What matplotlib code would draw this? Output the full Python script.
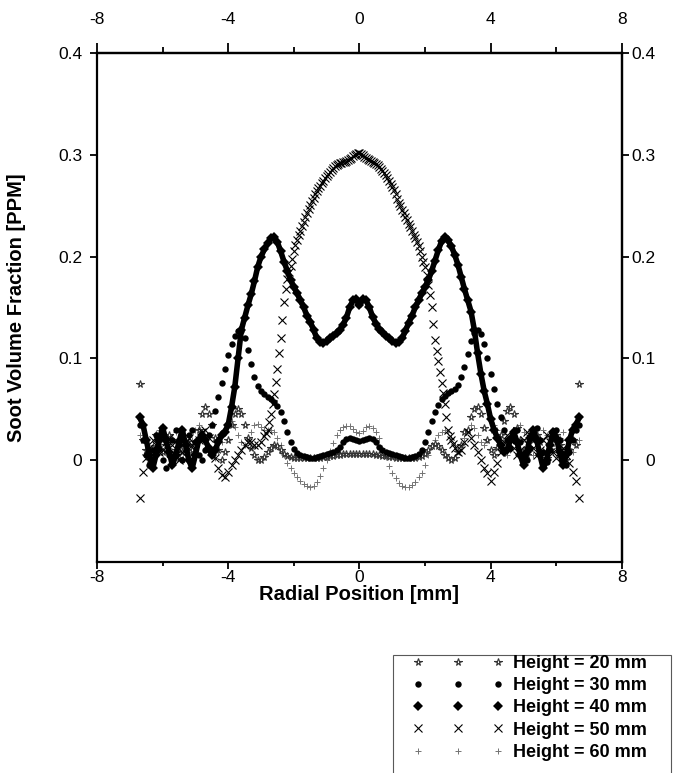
import numpy as np
import matplotlib.pyplot as plt
from matplotlib.lines import Line2D
from matplotlib.patches import Rectangle

plt.rcParams['font.family'] = ['Liberation Sans', 'DejaVu Sans']
plt.rcParams['axes.unicode_minus'] = False

# radial positions, mm (-6.7 .. 6.7, 0.1 steps)
radial_mm = np.round(np.linspace(-6.7, 6.7, 135), 2)
# 50 mm profile read finer across the central peak
radial_50mm = np.round(np.concatenate([np.linspace(-6.7, -3.0, 38),
                                       np.linspace(-2.9, 2.9, 117),
                                       np.linspace(3.0, 6.7, 38)]), 2)

# soot volume fraction, ppm
fv_20mm = [
    0.075, 0.02, 0.01, 0.0, 0.012, 0.025, 0.018, 0.008, 0.015, 0.025,
    0.02, 0.01, 0.002, 0.008, 0.018, 0.015, 0.01, 0.018, 0.03, 0.045,
    0.052, 0.045, 0.035, 0.022, 0.01, 0.0, 0.008, 0.02, 0.035, 0.045,
    0.05, 0.045, 0.035, 0.022, 0.012, 0.005, 0.0, 0.0, 0.003, 0.008,
    0.012, 0.015, 0.014, 0.01, 0.006, 0.004, 0.003, 0.002, 0.002, 0.002,
    0.002, 0.002, 0.002, 0.002, 0.002, 0.002, 0.003, 0.003, 0.004, 0.004,
    0.005, 0.005, 0.006, 0.006, 0.006, 0.006, 0.006, 0.006, 0.006, 0.006,
    0.006, 0.006, 0.005, 0.005, 0.004, 0.004, 0.003, 0.003, 0.002, 0.002,
    0.002, 0.002, 0.002, 0.002, 0.002, 0.003, 0.004, 0.006, 0.01, 0.014,
    0.016, 0.014, 0.01, 0.005, 0.002, 0.0, 0.002, 0.008, 0.015, 0.028,
    0.03, 0.042, 0.05, 0.052, 0.045, 0.032, 0.02, 0.01, 0.005, 0.012,
    0.025, 0.038, 0.048, 0.052, 0.045, 0.032, 0.02, 0.01, 0.005, 0.012,
    0.02, 0.025, 0.018, 0.008, 0.002, 0.01, 0.02, 0.025, 0.015, 0.005,
    0.0, 0.01, 0.02, 0.015, 0.075,
]
fv_30mm = [
    0.035, 0.02, 0.005, -0.005, 0.01, 0.025, 0.012, 0.0, -0.008, 0.005,
    0.02, 0.03, 0.015, 0.0, 0.01, 0.025, 0.03, 0.018, 0.005, 0.0,
    0.01, 0.025, 0.035, 0.048, 0.062, 0.076, 0.09, 0.103, 0.114, 0.122,
    0.127, 0.127, 0.12, 0.108, 0.094, 0.082, 0.073, 0.068, 0.065, 0.062,
    0.06, 0.057, 0.053, 0.047, 0.038, 0.028, 0.018, 0.011, 0.007, 0.005,
    0.004, 0.003, 0.002, 0.002, 0.003, 0.004, 0.005, 0.006, 0.007, 0.008,
    0.01, 0.013, 0.018, 0.021, 0.022, 0.021, 0.02, 0.019, 0.02, 0.021,
    0.022, 0.021, 0.018, 0.013, 0.01, 0.008, 0.007, 0.006, 0.005, 0.004,
    0.003, 0.002, 0.002, 0.003, 0.004, 0.006, 0.01, 0.018, 0.028, 0.038,
    0.047, 0.054, 0.06, 0.063, 0.066, 0.068, 0.07, 0.074, 0.082, 0.092,
    0.104, 0.117, 0.125, 0.128, 0.124, 0.114, 0.1, 0.085, 0.07, 0.055,
    0.042, 0.03, 0.02, 0.012, 0.02, 0.03, 0.018, 0.005, 0.0, 0.012,
    0.025, 0.032, 0.02, 0.008, -0.002, 0.01, 0.022, 0.03, 0.02, 0.005,
    -0.005, 0.008, 0.02, 0.03, 0.035,
]
fv_40mm = [
    0.042, 0.035, 0.02, 0.005, -0.008, 0.005, 0.02, 0.032, 0.02, 0.008,
    -0.005, 0.005, 0.018, 0.03, 0.015, 0.0, -0.008, 0.005, 0.02, 0.025,
    0.02, 0.012, 0.005, 0.01, 0.018, 0.025, 0.028, 0.035, 0.052, 0.072,
    0.1, 0.128, 0.14, 0.152, 0.163, 0.176, 0.19, 0.2, 0.207, 0.213,
    0.218, 0.219, 0.214, 0.205, 0.195, 0.186, 0.177, 0.17, 0.164, 0.157,
    0.15, 0.142, 0.136, 0.128, 0.12, 0.116, 0.115, 0.117, 0.12, 0.122,
    0.125, 0.128, 0.133, 0.14, 0.15, 0.157, 0.158, 0.152, 0.158, 0.157,
    0.15, 0.141, 0.134, 0.129, 0.126, 0.122, 0.12, 0.117, 0.115, 0.116,
    0.12, 0.127, 0.135, 0.142, 0.15, 0.157, 0.164, 0.17, 0.177, 0.186,
    0.196, 0.206, 0.215, 0.219, 0.216, 0.21, 0.202, 0.192, 0.18, 0.168,
    0.157, 0.146, 0.128, 0.105, 0.085, 0.068, 0.055, 0.04, 0.03, 0.022,
    0.015, 0.008, 0.01, 0.02, 0.028, 0.018, 0.005, -0.005, 0.008, 0.022,
    0.03, 0.02, 0.005, -0.008, 0.0, 0.015, 0.028, 0.022, 0.008, -0.005,
    0.005, 0.02, 0.03, 0.035, 0.042,
]
fv_50mm = [
    # -6.7 .. -3.0
    -0.037, -0.012, 0.002, 0.012, 0.02, 0.015, 0.008, 0.01, 0.018, 0.022,
    0.015, 0.005, 0.0, 0.008, 0.018, 0.022, 0.015, 0.01, 0.02, 0.028,
    0.03, 0.022, 0.012, 0.002, -0.008, -0.015, -0.017, -0.012, -0.005, 0.0,
    0.005, 0.01, 0.015, 0.018, 0.018, 0.015, 0.015, 0.018,
    # -2.9 .. 2.9 (0.05 steps)
    0.024, 0.027, 0.03, 0.037, 0.045, 0.055, 0.065, 0.077, 0.09, 0.105,
    0.12, 0.138, 0.155, 0.168, 0.178, 0.185, 0.191, 0.198, 0.205, 0.211,
    0.216, 0.221, 0.225, 0.23, 0.234, 0.239, 0.243, 0.247, 0.251, 0.255,
    0.258, 0.261, 0.264, 0.267, 0.269, 0.272, 0.274, 0.277, 0.279, 0.281,
    0.283, 0.285, 0.287, 0.289, 0.29, 0.291, 0.292, 0.292, 0.293, 0.293,
    0.294, 0.295, 0.296, 0.297, 0.299, 0.3, 0.301, 0.302, 0.302, 0.301,
    0.3, 0.298, 0.297, 0.296, 0.295, 0.294, 0.293, 0.292, 0.291, 0.29,
    0.288, 0.286, 0.284, 0.282, 0.28, 0.277, 0.274, 0.271, 0.268, 0.265,
    0.261, 0.257, 0.253, 0.25, 0.246, 0.243, 0.239, 0.236, 0.232, 0.229,
    0.225, 0.221, 0.218, 0.214, 0.21, 0.205, 0.2, 0.195, 0.19, 0.182,
    0.172, 0.162, 0.15, 0.134, 0.118, 0.107, 0.097, 0.087, 0.076, 0.066,
    0.055, 0.042, 0.03, 0.024, 0.02, 0.016, 0.012,
    # 3.0 .. 6.7
    0.008, 0.01, 0.018,
    0.028, 0.022, 0.015, 0.008, 0.0, -0.008, -0.013, -0.02, -0.012, -0.003,
    0.008, 0.018, 0.025, 0.02, 0.012, 0.005, 0.01, 0.02, 0.028, 0.022,
    0.012, 0.005, 0.01, 0.02, 0.025, 0.018, 0.008, 0.002, 0.008, 0.012,
    0.005, -0.003, -0.012, -0.02, -0.037,
]
fv_60mm = [
    0.025, 0.02, 0.01, 0.005, 0.015, 0.025, 0.03, 0.02, 0.01, 0.012,
    0.02, 0.028, 0.022, 0.012, 0.005, 0.01, 0.02, 0.03, 0.035, 0.028,
    0.018, 0.01, 0.005, 0.002, 0.008, 0.018, 0.028, 0.035, 0.038, 0.033,
    0.025, 0.018, 0.015, 0.02, 0.028, 0.035, 0.036, 0.033, 0.03, 0.03,
    0.03, 0.028, 0.022, 0.015, 0.005, -0.003, -0.008, -0.013, -0.017, -0.02,
    -0.023, -0.025, -0.026, -0.025, -0.021, -0.016, -0.008, 0.0, 0.009, 0.017,
    0.025, 0.03, 0.033, 0.034, 0.034, 0.031, 0.028, 0.027, 0.029, 0.033,
    0.034, 0.032, 0.028, 0.022, 0.012, 0.003, -0.006, -0.013, -0.018, -0.022,
    -0.025, -0.026, -0.026, -0.024, -0.021, -0.017, -0.013, -0.005, 0.005, 0.014,
    0.02, 0.025, 0.028, 0.03, 0.028, 0.022, 0.015, 0.01, 0.015, 0.022,
    0.03, 0.035, 0.032, 0.025, 0.018, 0.015, 0.02, 0.03, 0.035, 0.03,
    0.02, 0.01, 0.005, 0.01, 0.02, 0.03, 0.035, 0.028, 0.018, 0.01,
    0.005, 0.012, 0.022, 0.03, 0.025, 0.015, 0.008, 0.012, 0.022, 0.028,
    0.02, 0.012, 0.008, 0.015, 0.02,
]

labels = ['Height = 20 mm', 'Height = 30 mm', 'Height = 40 mm',
          'Height = 50 mm', 'Height = 60 mm']
x_major = [-8, -4, 0, 4, 8]
x_minor = [-6, -2, 2, 6]
y_major = [0, 0.1, 0.2, 0.3, 0.4]
x_ticklabels = ['-8', '-4', '0', '4', '8']
y_ticklabels = ['0', '0.1', '0.2', '0.3', '0.4']

fig = plt.figure(figsize=(6.73, 7.73), dpi=100)
ax = fig.add_axes([0.1441, 0.2730, 0.7801, 0.6585])

# marker styles roughly like the scanned Origin plot
sty_20 = dict(ls='None', marker='*', ms=5.5, mfc='white', mec='0.2', mew=0.8)
sty_30 = dict(ls='None', marker='o', ms=4.6, mfc='black', mec='black', mew=0)
sty_40 = dict(ls='None', marker='D', ms=5.5, mfc='black', mec='black', mew=0)
sty_50 = dict(ls='None', marker='x', ms=5.5, mec='black', mew=0.8)
sty_60 = dict(ls='None', marker='+', ms=4.5, mec='0.45', mew=0.7)

ax.plot(radial_mm, fv_60mm, **sty_60)
ax.plot(radial_mm, fv_20mm, **sty_20)
ax.plot(radial_50mm, fv_50mm, **sty_50)
ax.plot(radial_mm, fv_30mm, **sty_30)
ax.plot(radial_mm, fv_40mm, color='black', lw=4)
ax.plot(radial_mm, fv_40mm, **sty_40)

ax.set_xlim(-8, 8)
ax.set_ylim(-0.1, 0.4)
ax.set_xticks(x_major, labels=x_ticklabels)
ax.set_xticks(x_minor, minor=True)
ax.set_yticks(y_major, labels=y_ticklabels)
ax.tick_params(axis='x', which='both', direction='out', width=1.3,
               labelsize=12.5, pad=1)
ax.tick_params(axis='x', which='major', length=5)
ax.tick_params(axis='x', which='minor', length=3)
ax.tick_params(axis='y', direction='out', width=1.3, length=5,
               labelsize=12.5, pad=5.5)
for s in ax.spines.values():
    s.set_linewidth(1.6)

top = ax.secondary_xaxis('top')
top.set_xticks(x_major, labels=x_ticklabels)
top.set_xticks(x_minor, minor=True)
top.tick_params(which='both', direction='out', width=1.3, labelsize=12.5, pad=12)
top.tick_params(which='major', length=7)
top.tick_params(which='minor', length=4)
top.spines['top'].set_linewidth(1.6)

right = ax.secondary_yaxis('right')
right.set_yticks(y_major, labels=y_ticklabels)
right.tick_params(direction='out', width=1.3, length=5, labelsize=12.5, pad=19)
right.spines['right'].set_linewidth(1.6)
for lab in right.get_yticklabels():
    lab.set_horizontalalignment('right')

ax.set_xlabel('Radial Position [mm]', fontsize=14.5, fontweight='bold')
ax.xaxis.set_label_coords(0.5, -0.046)
ax.set_ylabel('Soot Volume Fraction [PPM]', fontsize=14.5, fontweight='bold')
ax.yaxis.set_label_coords(-0.135, 0.5)

# legend: Origin style, three symbols per entry, boxed
handles = [Line2D([], [], **sty_20), Line2D([], [], **sty_30),
           Line2D([], [], **sty_40), Line2D([], [], **sty_50),
           Line2D([], [], **sty_60)]
fs = 13
fig.legend(handles, labels, loc='upper left',
           bbox_to_anchor=(413 / 673, 1 - 655 / 773), numpoints=3,
           handlelength=90 / (fs * 100 / 72), handletextpad=0.55,
           labelspacing=0.29, borderpad=0, borderaxespad=0, frameon=False,
           prop={'weight': 'bold', 'size': fs})
fig.patches.append(Rectangle((393 / 673, -0.02), 278 / 673, 1 - 655 / 773 + 0.02,
                             transform=fig.transFigure, fill=False,
                             edgecolor='0.35', lw=0.8))

fig.savefig('out.png', dpi=100)
